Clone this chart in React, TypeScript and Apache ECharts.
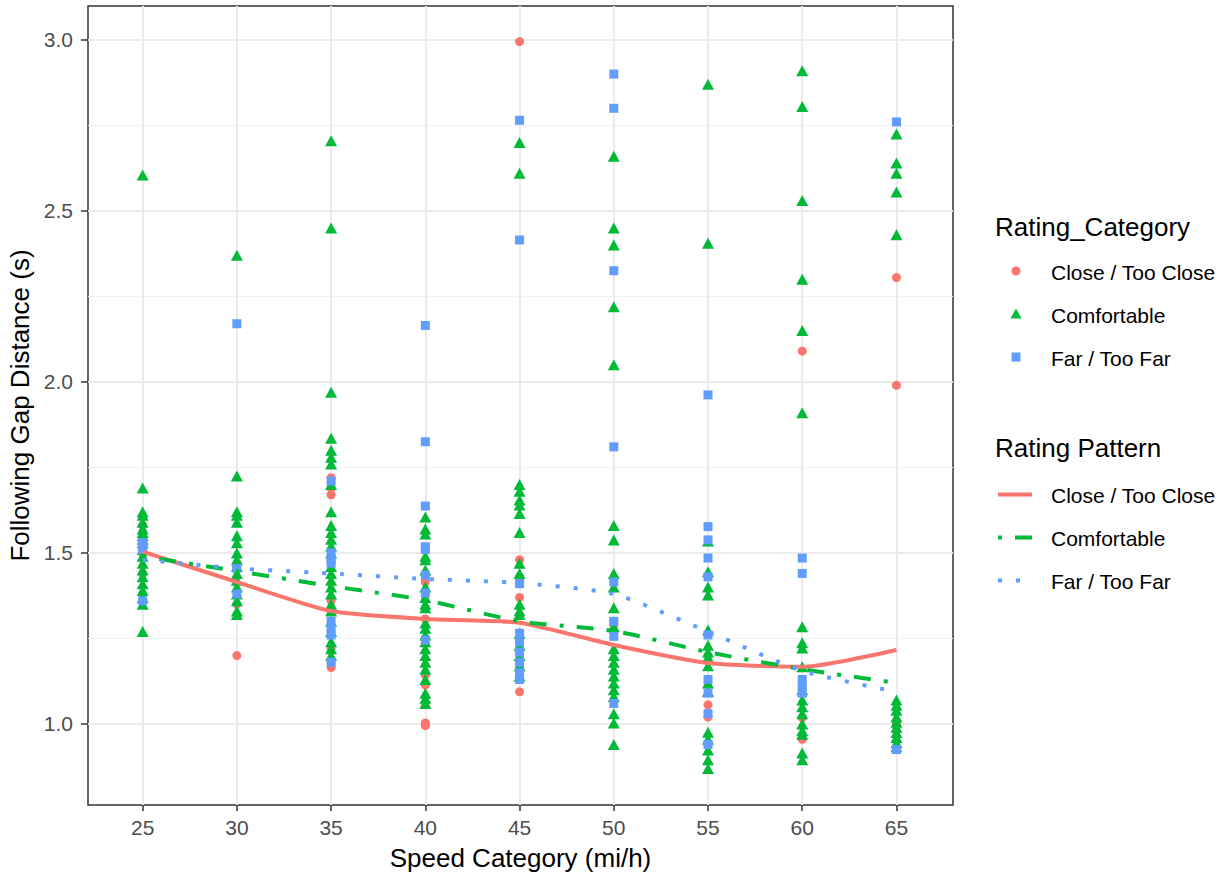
import React, { useEffect, useRef } from "react";
import * as echarts from "echarts";

// Speed categories (mi/h)
const speeds = [25, 30, 35, 40, 45, 50, 55, 60, 65];

// Individual following-gap ratings (s), one list per speed category
const closeGaps: number[][] = [
  [1.58, 1.56, 1.5, 1.44],
  [1.47, 1.35, 1.2],
  [1.72, 1.69, 1.67, 1.36, 1.22, 1.18, 1.165],
  [1.415, 1.307, 1.143, 1.114, 1.06, 1.003, 0.995],
  [2.995, 1.48, 1.43, 1.37, 1.167, 1.094],
  [1.3, 1.29],
  [1.056, 1.02],
  [2.09, 1.11, 1.018, 0.955],
  [2.305, 1.99, 1.0, 0.98],
];

const comfortableGaps: number[][] = [
  [2.605, 1.69, 1.62, 1.61, 1.59, 1.57, 1.56, 1.55, 1.54, 1.53, 1.51, 1.49, 1.47, 1.45, 1.43, 1.41, 1.39, 1.37, 1.35, 1.27],
  [2.37, 1.725, 1.62, 1.61, 1.59, 1.55, 1.53, 1.5, 1.48, 1.46, 1.44, 1.42, 1.4, 1.38, 1.36, 1.33, 1.32],
  [2.705, 2.45, 1.97, 1.835, 1.8, 1.78, 1.76, 1.7, 1.62, 1.58, 1.56, 1.54, 1.52, 1.5, 1.46, 1.44, 1.42, 1.4, 1.38, 1.35, 1.33, 1.3, 1.27, 1.24, 1.22, 1.2],
  [1.605, 1.57, 1.555, 1.49, 1.48, 1.45, 1.4, 1.37, 1.35, 1.34, 1.295, 1.28, 1.26, 1.24, 1.22, 1.2, 1.18, 1.16, 1.13, 1.09, 1.075, 1.06],
  [2.7, 2.61, 1.7, 1.68, 1.655, 1.64, 1.615, 1.56, 1.47, 1.44, 1.35, 1.33, 1.32, 1.265, 1.23, 1.2, 1.17, 1.14],
  [2.66, 2.45, 2.4, 2.22, 2.05, 1.58, 1.538, 1.44, 1.4, 1.34, 1.284, 1.22, 1.2, 1.18, 1.16, 1.14, 1.12, 1.1, 1.08, 1.03, 1.003, 0.94],
  [2.87, 2.405, 1.535, 1.445, 1.4, 1.377, 1.275, 1.23, 1.21, 1.196, 1.17, 1.12, 1.095, 0.976, 0.955, 0.924, 0.895, 0.87],
  [2.91, 2.805, 2.53, 2.3, 2.15, 1.91, 1.284, 1.237, 1.222, 1.167, 1.1, 1.07, 1.05, 1.03, 1.0, 0.98, 0.97, 0.915, 0.895],
  [2.725, 2.64, 2.61, 2.555, 2.43, 1.07, 1.055, 1.04, 1.02, 1.005, 0.99, 0.975, 0.96, 0.945, 0.933],
];

const farGaps: number[][] = [
  [1.53, 1.52, 1.51, 1.36],
  [2.17, 1.455, 1.38],
  [1.71, 1.5, 1.48, 1.47, 1.3, 1.28, 1.26, 1.18],
  [2.165, 1.825, 1.637, 1.518, 1.51, 1.435, 1.383, 1.245],
  [2.765, 2.415, 1.41, 1.265, 1.24, 1.21, 1.18, 1.15, 1.13],
  [2.9, 2.8, 2.325, 1.81, 1.415, 1.3, 1.256, 1.06],
  [1.962, 1.577, 1.538, 1.485, 1.43, 1.26, 1.13, 1.09, 1.03, 0.94],
  [1.485, 1.44, 1.13, 1.11, 1.09],
  [2.76, 0.925],
];

// Smoothed rating patterns at each speed category
const closeTrend = [1.504, 1.415, 1.33, 1.307, 1.296, 1.231, 1.178, 1.167, 1.216];
const comfortableTrend = [1.49, 1.447, 1.403, 1.362, 1.3, 1.272, 1.21, 1.16, 1.12];
const farTrend = [1.48, 1.455, 1.44, 1.424, 1.412, 1.38, 1.27, 1.155, 1.094];

const yTicks = [1.0, 1.5, 2.0, 2.5, 3.0];
const yMinorTicks = [1.25, 1.75, 2.25, 2.75];

const RED = "#F8766D";
const GREEN = "#00BA38";
const BLUE = "#619CFF";
const FONT = "'Liberation Sans', Arial, sans-serif";

const toPoints = (groups: number[][]) =>
  groups.flatMap((vals, i) => vals.map((v) => [speeds[i], v]));
const toLine = (vals: number[]) => vals.map((v, i) => [speeds[i], v]);

export default function App() {
  const ref = useRef<HTMLDivElement>(null);

  useEffect(() => {
    if (!ref.current) return;
    const chart = echarts.init(ref.current, undefined, { renderer: "svg" });

    const legendLabel = (text: string, y: number) => ({
      type: "text",
      x: 1051,
      y,
      style: { text, fill: "#000", fontSize: 21, fontFamily: FONT, verticalAlign: "middle" },
    });
    const legendTitle = (text: string, y: number) => ({
      type: "text",
      x: 995,
      y,
      style: { text, fill: "#000", fontSize: 26, fontFamily: FONT, verticalAlign: "middle" },
    });

    chart.setOption({
      animation: false,
      backgroundColor: "#ffffff",
      grid: {
        left: 88,
        top: 6,
        width: 865,
        height: 799,
        containLabel: false,
        outerBoundsMode: "none",
        show: true,
        borderColor: "#333333",
        borderWidth: 1.5,
        backgroundColor: "#ffffff",
      },
      xAxis: {
        type: "value",
        min: 22.1,
        max: 68.0,
        axisLine: { show: false },
        axisTick: {
          show: true,
          customValues: speeds,
          length: 6,
          lineStyle: { color: "#333333", width: 1.5 },
        },
        axisLabel: {
          customValues: speeds,
          fontSize: 21,
          color: "#4D4D4D",
          fontFamily: FONT,
          margin: 12,
        },
        splitLine: { show: true, lineStyle: { color: "#EBEBEB", width: 2 } },
        name: "Speed Category (mi/h)",
        nameLocation: "middle",
        nameGap: 40,
        nameTextStyle: { fontSize: 26, color: "#000", fontFamily: FONT },
      },
      yAxis: [
        {
          type: "value",
          min: 0.763,
          max: 3.099,
          axisLine: { show: false },
          axisTick: {
            show: true,
            customValues: yTicks,
            length: 7,
            lineStyle: { color: "#333333", width: 1.5 },
          },
          axisLabel: {
            customValues: yTicks,
            formatter: (v: number) => v.toFixed(1),
            fontSize: 21,
            color: "#4D4D4D",
            fontFamily: FONT,
            margin: 15,
          },
          splitLine: { show: true, lineStyle: { color: "#EBEBEB", width: 2 } },
          name: "Following Gap Distance (s)",
          nameLocation: "middle",
          nameGap: 54,
          nameTextStyle: { fontSize: 26, color: "#000", fontFamily: FONT },
        },
        {
          type: "value",
          min: 0.763,
          max: 3.099,
          position: "right",
          axisLine: { show: false },
          axisTick: { show: false, customValues: yMinorTicks },
          axisLabel: { show: false, customValues: yMinorTicks },
          splitLine: { show: true, lineStyle: { color: "#F2F2F2", width: 1 } },
        },
      ],
      series: [
        {
          name: "Close / Too Close",
          type: "scatter",
          symbol: "circle",
          symbolSize: 9,
          itemStyle: { color: RED, opacity: 1 },
          emphasis: { disabled: true },
          data: toPoints(closeGaps),
        },
        {
          name: "Comfortable",
          type: "scatter",
          symbol: "triangle",
          symbolSize: [12, 11],
          itemStyle: { color: GREEN, opacity: 1 },
          emphasis: { disabled: true },
          data: toPoints(comfortableGaps),
        },
        {
          name: "Far / Too Far",
          type: "scatter",
          symbol: "rect",
          symbolSize: 9,
          itemStyle: { color: BLUE, opacity: 1 },
          emphasis: { disabled: true },
          data: toPoints(farGaps),
        },
        {
          name: "Close / Too Close trend",
          type: "line",
          smooth: 0.2,
          symbol: "none",
          lineStyle: { color: RED, width: 4 },
          data: toLine(closeTrend),
        },
        {
          name: "Comfortable trend",
          type: "line",
          smooth: 0.2,
          symbol: "none",
          lineStyle: { color: GREEN, width: 4, type: [4, 13, 17, 13] },
          data: toLine(comfortableTrend),
        },
        {
          name: "Far / Too Far trend",
          type: "line",
          smooth: 0.2,
          symbol: "none",
          lineStyle: { color: BLUE, width: 4, type: [4, 14] },
          data: toLine(farTrend),
        },
      ],
      graphic: [
        legendTitle("Rating_Category", 227),
        { type: "circle", shape: { cx: 1016, cy: 271, r: 4.5 }, style: { fill: RED } },
        legendLabel("Close / Too Close", 272),
        {
          type: "polygon",
          shape: { points: [[1010.5, 318.5], [1021.5, 318.5], [1016, 308.5]] },
          style: { fill: GREEN },
        },
        legendLabel("Comfortable", 315),
        { type: "rect", shape: { x: 1011.5, y: 352.5, width: 9, height: 9 }, style: { fill: BLUE } },
        legendLabel("Far / Too Far", 358),

        legendTitle("Rating Pattern", 448),
        {
          type: "line",
          shape: { x1: 998, y1: 494.5, x2: 1032, y2: 494.5 },
          style: { stroke: RED, lineWidth: 4 },
        },
        legendLabel("Close / Too Close", 495),
        {
          type: "line",
          shape: { x1: 998, y1: 537.5, x2: 1032, y2: 537.5 },
          style: { stroke: GREEN, lineWidth: 4, lineDash: [4, 13, 17, 13] },
        },
        legendLabel("Comfortable", 538),
        {
          type: "line",
          shape: { x1: 998, y1: 580.5, x2: 1032, y2: 580.5 },
          style: { stroke: BLUE, lineWidth: 4, lineDash: [4, 14] },
        },
        legendLabel("Far / Too Far", 581),
      ],
    });

    return () => chart.dispose();
  }, []);

  return (
    <div
      ref={ref}
      style={{ position: "fixed", left: 0, top: 0, width: 1226, height: 875, background: "#fff" }}
    />
  );
}
